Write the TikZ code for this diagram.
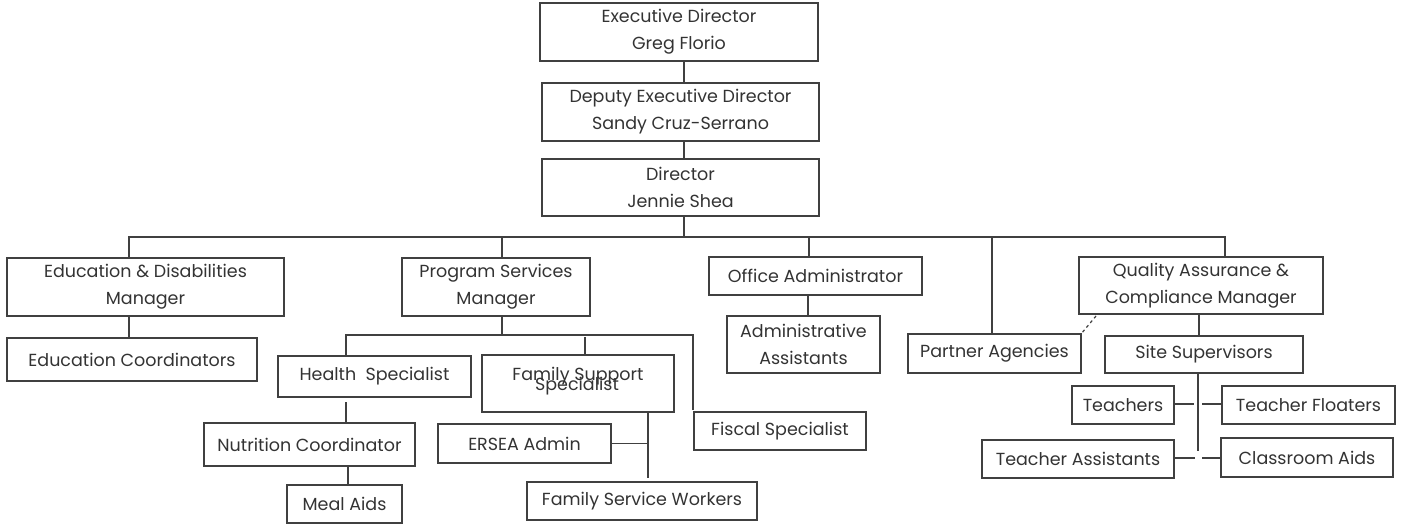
\documentclass[tikz,border=0pt]{standalone}
\usepackage{fontspec}
\setmainfont{Poppins}
\definecolor{ink}{HTML}{333333}
\definecolor{ln}{HTML}{404040}
\tikzset{
  bx/.style={draw=ln, line width=1.2pt, inner sep=0pt, outer sep=0pt, align=center,
    text=ink, font=\fontsize{17.5}{27}\selectfont},
  lbl/.style={inner sep=0pt, text=ink, font=\fontsize{17.5}{27}\selectfont},
  cn/.style={draw=ln, line width=1.2pt},
}
\newcommand\obox[6]{\node[bx, minimum width={#4-#2}, minimum height={#5-#3}] (#1) at ({(#2+#4)/2},{(#3+#5)/2}) {#6};}
\begin{document}
\begin{tikzpicture}[x=1pt,y=-1pt]
\useasboundingbox (0,0) rectangle (1401,525);
% top chain
\obox{ed}{540}{3}{818}{61}{Executive Director\\Greg Florio}
\obox{ded}{542}{83}{819}{141}{Deputy Executive Director\\Sandy Cruz-Serrano}
\obox{dir}{542}{159}{819}{216}{Director\\Jennie Shea}
% managers
\obox{edm}{7}{258}{284}{316}{Education \& Disabilities\\Manager}
\obox{psm}{402}{258}{590}{316}{Program Services\\Manager}
\obox{oa}{709}{257}{922}{295}{Office Administrator}
\obox{pa}{908}{334}{1081}{373}{Partner Agencies}
\obox{qa}{1079}{257}{1323}{314}{Quality Assurance \&\\Compliance Manager}
% education
\obox{ec}{7}{338}{257}{381}{Education Coordinators}
% program services
\obox{hs}{278}{356}{471}{397}{Health\ \ Specialist}
\obox{fss}{482}{355}{674}{412}{}
\node[lbl] (fss1) at (578,376) {Family Support};
\node[lbl] (fss2) at (577,386) {Specialist};
\obox{fis}{694}{412}{866}{450}{Fiscal Specialist}
\obox{nc}{204}{423}{415}{466}{Nutrition Coordinator}
\obox{ma}{287}{485}{402}{523}{Meal Aids}
\obox{ers}{438}{424}{611}{463}{ERSEA Admin}
\obox{fsw}{527}{482}{757}{520}{Family Service Workers}
% office
\obox{aa}{727}{316}{880}{373}{Administrative\\Assistants}
% QA
\obox{ss}{1105}{336}{1303}{373}{Site Supervisors}
\obox{te}{1072}{386}{1174}{424}{Teachers}
\obox{tf}{1222}{386}{1395}{424}{Teacher Floaters}
\obox{ta}{982}{440}{1174}{478}{Teacher Assistants}
\obox{ca}{1221}{438}{1393}{477}{Classroom Aids}
% coordinates
\coordinate (busL) at (129,237);
\coordinate (busR) at (1225,237);
\coordinate (bus2L) at (346,335);
\coordinate (bus2R) at (693,335);
% connectors
\draw[cn] (ed.south -| 684,0) -- (ded.north -| 684,0);
\draw[cn] (ded.south -| 684,0) -- (dir.north -| 684,0);
\draw[cn] (dir.south -| 684,0) -- (busL -| 684,0);
\draw[cn] (edm.north -| busL) -- (busL) -- (busR) -- (qa.north -| busR);
\draw[cn] (busL -| 502,0) -- (psm.north -| 502,0);
\draw[cn] (busL -| 809,0) -- (oa.north -| 809,0);
\draw[cn] (busL -| 992,0) -- (pa.north -| 992,0);
\draw[cn] (edm.south -| busL) -- (ec.north -| busL);
\draw[cn] (psm.south -| 502,0) -- (bus2L -| 502,0);
\draw[cn] (hs.north -| bus2L) -- (bus2L) -- (bus2R) -- (693,410);
\draw[cn] (585,337) -- (fss.north -| 585,0);
\draw[cn] (hs.south -| 346,0) ++(0,5) -- (nc.north -| 346,0) ++(0,-3);
\draw[cn] (nc.south -| 348,0) -- (ma.north -| 348,0);
\draw[cn] (fss.south -| 648,0) -- (648,478);
\draw[cn] (ers.east) -- (ers.east -| 648,0);
\draw[cn] (oa.south -| 808,0) -- (aa.north -| 808,0);
\draw[cn] (qa.south -| 1199,0) -- (ss.north -| 1199,0);
\draw[cn, dashed] (1096,316) -- (pa.north east);
\draw[cn] (ss.south -| 1198,0) -- (1198,451);
\draw[cn] (te.east |- 0,404) -- (1194,404);
\draw[cn] (1202,404) -- (tf.west |- 0,404);
\draw[cn] (ta.east |- 0,458) -- (1195,458);
\draw[cn] (1202,458) -- (ca.west |- 0,458);
\end{tikzpicture}
\end{document}
